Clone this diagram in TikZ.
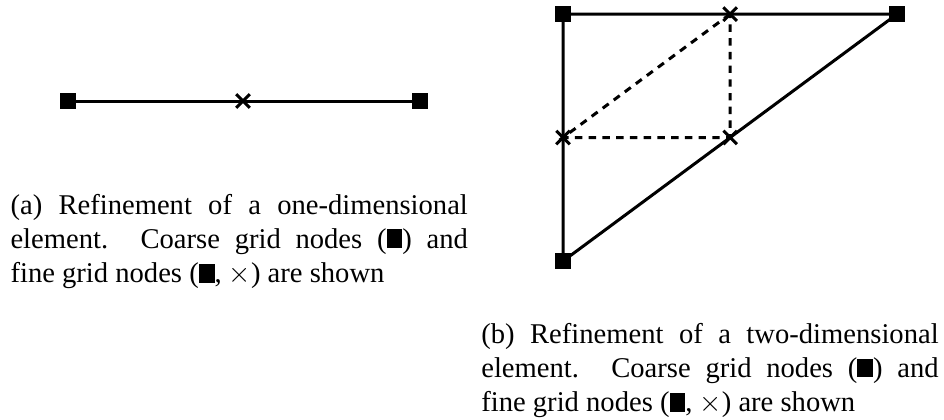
\documentclass[tikz,border=0pt]{standalone}
\usepackage{fontspec}
\setmainfont{Liberation Serif}
\usetikzlibrary{shapes.misc}
\newcommand{\coarsebox}{\rule{0.55em}{0.66em}}

\begin{document}
\begin{tikzpicture}[line width=1.05pt,
  coarse/.style={rectangle,fill=black,minimum size=0.197cm,inner sep=0pt},
  fine/.style={cross out,draw=black,line width=1.05pt,minimum size=0.13cm,inner sep=0pt},
  refined/.style={dash pattern=on 2.6pt off 2.2pt},
  caption/.style={anchor=base west,inner sep=0pt,text width=5.62cm,align=justify,
    font=\fontsize{10}{12}\selectfont}]
  \useasboundingbox (0,0) rectangle (11.60,5.15);
  % one-dimensional element
  \node[coarse] (left) at (0.836,3.908) {};
  \node[fine] (mid) at (2.986,3.908) {};
  \node[coarse] (right) at (5.162,3.908) {};
  \draw (left.center) -- (mid.center) -- (right.center);
  % two-dimensional element
  \node[coarse] (c1) at (6.919,4.977) {};
  \node[coarse] (c2) at (11.024,4.977) {};
  \node[coarse] (c3) at (6.919,1.942) {};
  \node[fine] (f12) at (8.972,4.977) {};
  \node[fine] (f13) at (6.919,3.460) {};
  \node[fine] (f23) at (8.972,3.460) {};
  \draw (c1.center) -- (f12.center) -- (c2.center) -- (f23.center) -- (c3.center)
    -- (f13.center) -- (c1.center);
  \draw[refined] (f12.center) -- (f13.center) -- (f23.center) -- (f12.center);
  % captions
  \node[caption] (capa) at (0.111,2.520) {(a) Refinement of a one-dimensional\linebreak
    element. Coarse grid nodes (\coarsebox) and\linebreak
    fine grid nodes (\coarsebox, $\times$) are shown};
  \node[caption] (capb) at (5.896,0.934) {(b) Refinement of a two-dimensional\linebreak
    element. Coarse grid nodes (\coarsebox) and\linebreak
    fine grid nodes (\coarsebox, $\times$) are shown};
\end{tikzpicture}
\end{document}
